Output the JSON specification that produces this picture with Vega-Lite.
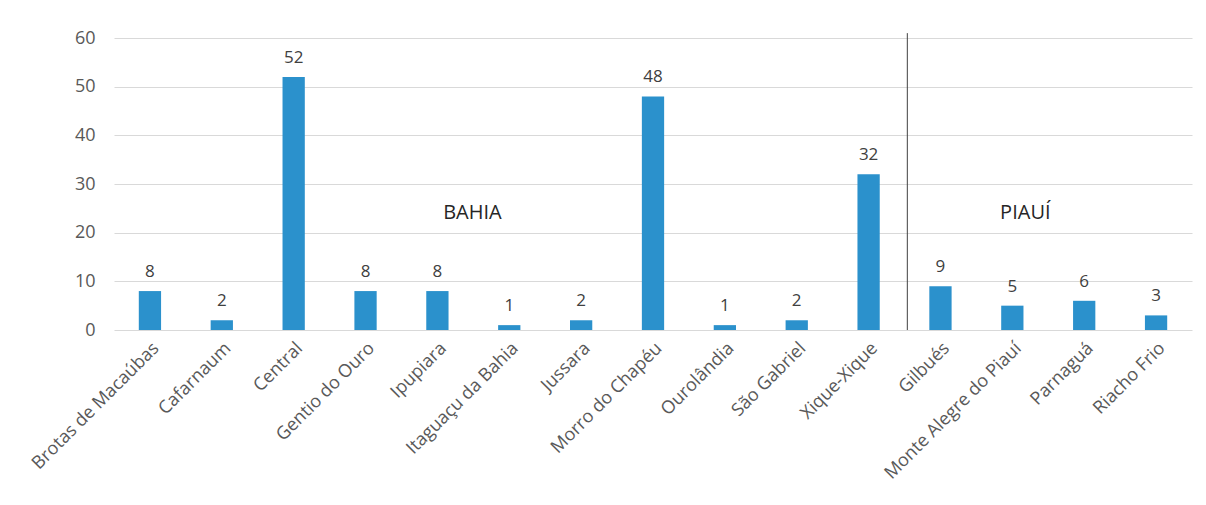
{
  "$schema": "https://vega.github.io/schema/vega-lite/v6.json",
  "width": 1078,
  "height": 292,
  "autosize": {"type": "none"},
  "padding": {"left": 114, "top": 38, "right": 14, "bottom": 175},
  "background": "white",
  "config": {
    "view": {"stroke": null},
    "font": "Open Sans"
  },
  "datasets": {
    "bars": [
      {"municipio": "Brotas de Macaúbas", "valor": 8},
      {"municipio": "Cafarnaum", "valor": 2},
      {"municipio": "Central", "valor": 52},
      {"municipio": "Gentio do Ouro", "valor": 8},
      {"municipio": "Ipupiara", "valor": 8},
      {"municipio": "Itaguaçu da Bahia", "valor": 1},
      {"municipio": "Jussara", "valor": 2},
      {"municipio": "Morro do Chapéu", "valor": 48},
      {"municipio": "Ourolândia", "valor": 1},
      {"municipio": "São Gabriel", "valor": 2},
      {"municipio": "Xique-Xique", "valor": 32},
      {"municipio": "Gilbués", "valor": 9},
      {"municipio": "Monte Alegre do Piauí", "valor": 5},
      {"municipio": "Parnaguá", "valor": 6},
      {"municipio": "Riacho Frio", "valor": 3}
    ]
  },
  "layer": [
    {
      "data": {"name": "bars"},
      "mark": {"type": "bar", "color": "#2B91CC"},
      "encoding": {
        "x": {
          "field": "municipio",
          "type": "nominal",
          "sort": null,
          "scale": {"paddingInner": 0.69, "paddingOuter": 0.345},
          "axis": {
            "title": null,
            "domain": false,
            "ticks": false,
            "labelAngle": -45,
            "labelFontSize": 18,
            "labelColor": "#595959",
            "labelPadding": 9,
            "labelLimit": 400,
            "labelFont": "Open Sans"
          }
        },
        "y": {
          "field": "valor",
          "type": "quantitative",
          "scale": {"domain": [0, 60], "nice": false},
          "axis": {
            "title": null,
            "values": [0, 10, 20, 30, 40, 50, 60],
            "domain": false,
            "ticks": false,
            "gridColor": "#d9d9d9",
            "gridWidth": 1,
            "labelFontSize": 18,
            "labelColor": "#595959",
            "labelPadding": 19,
            "labelFont": "Open Sans"
          }
        }
      }
    },
    {
      "data": {"name": "bars"},
      "mark": {"type": "text", "fontSize": 17, "color": "#404040", "baseline": "alphabetic", "dy": -14, "font": "Open Sans"},
      "encoding": {
        "x": {"field": "municipio", "type": "nominal", "sort": null},
        "y": {"field": "valor", "type": "quantitative"},
        "text": {"field": "valor", "type": "quantitative"}
      }
    },
    {
      "data": {"values": [{"municipio": "Gilbués"}]},
      "mark": {"type": "rule", "color": "#404040", "strokeWidth": 1, "xOffset": -22},
      "encoding": {
        "x": {"field": "municipio", "type": "nominal", "sort": null, "bandPosition": 0},
        "y": {"datum": 61},
        "y2": {"datum": 0}
      }
    },
    {
      "data": {"values": [{"municipio": "Ipupiara", "regiao": "BAHIA"}]},
      "mark": {"type": "text", "fontSize": 20, "color": "#262626", "baseline": "middle", "align": "center", "dx": 35, "font": "Open Sans"},
      "encoding": {
        "x": {"field": "municipio", "type": "nominal", "sort": null},
        "y": {"datum": 24},
        "text": {"field": "regiao"}
      }
    },
    {
      "data": {"values": [{"municipio": "Monte Alegre do Piauí", "regiao": "PIAUÍ"}]},
      "mark": {"type": "text", "fontSize": 20, "color": "#262626", "baseline": "middle", "align": "center", "dx": 13, "font": "Open Sans"},
      "encoding": {
        "x": {"field": "municipio", "type": "nominal", "sort": null},
        "y": {"datum": 24},
        "text": {"field": "regiao"}
      }
    }
  ]
}
